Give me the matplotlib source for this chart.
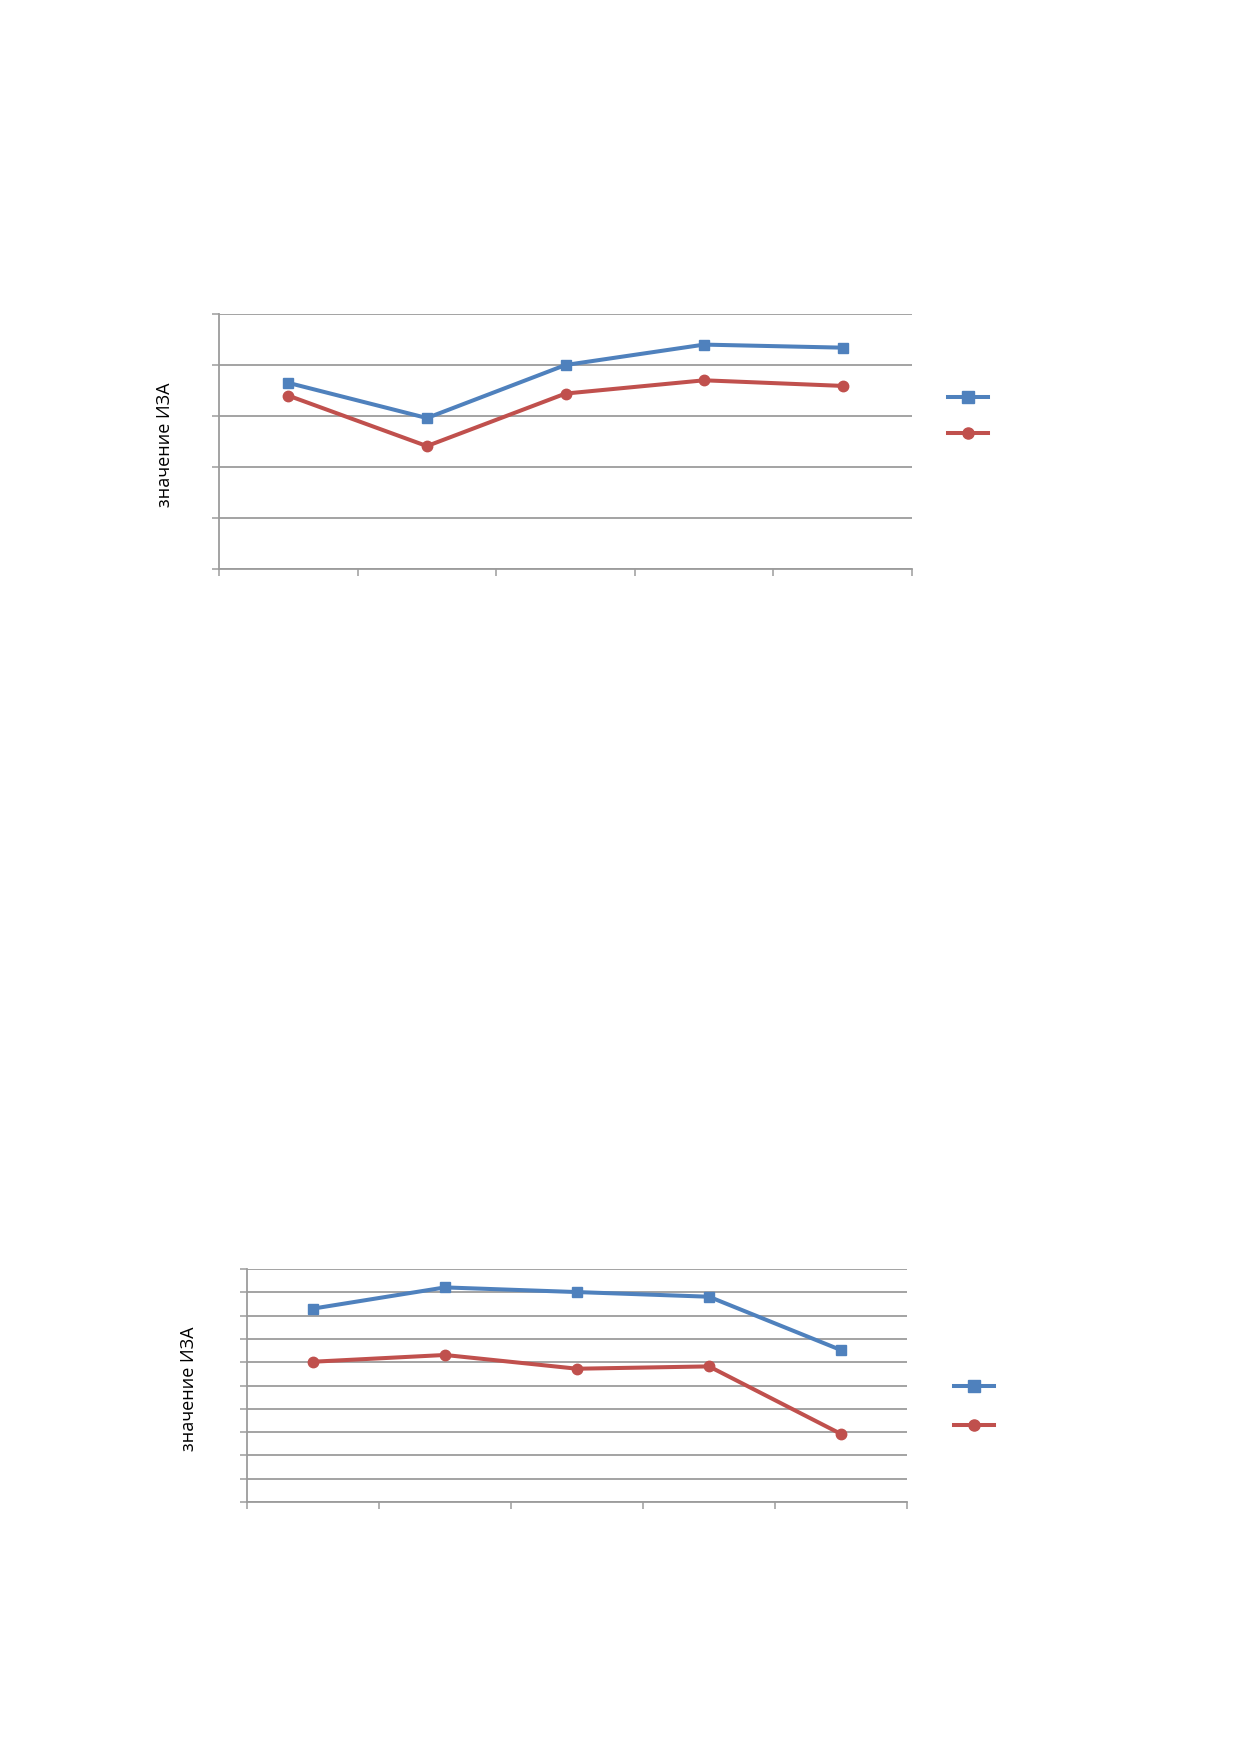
import numpy as np
import matplotlib
matplotlib.use("Agg")
import matplotlib.pyplot as plt
from matplotlib.lines import Line2D

plt.rcParams['font.family'] = ['Open Sans', 'DejaVu Sans']

# values (no visible tick labels, units = gridline steps)
n_cat = 5
top_blue = [3.65, 2.96, 4.00, 4.40, 4.34]
top_red = [3.40, 2.41, 3.44, 3.70, 3.59]
bot_blue = [8.30, 9.21, 9.01, 8.81, 6.52]
bot_red = [6.02, 6.31, 5.72, 5.82, 2.92]
ylabel = "значение ИЗА"

BLUE = "#4F81BD"
RED = "#C0504D"
GRID = "#9c9c9c"

W, H = 1239, 1752
fig = plt.figure(figsize=(W / 100, H / 100), dpi=100)


def px_axes(left, right, top, bottom):
    return fig.add_axes([left / W, 1 - bottom / H, (right - left) / W, (bottom - top) / H])


def draw_chart(ax, blue, red, ymax):
    x = np.arange(n_cat) + 0.5
    ax.plot(x, blue, color=BLUE, lw=2.9, marker='s', ms=7.5, zorder=3)
    ax.plot(x, red, color=RED, lw=2.9, marker='o', ms=7.5, zorder=3)
    ax.set_xlim(0, n_cat)
    ax.set_ylim(0, ymax)
    ax.set_xticks(np.arange(n_cat + 1))
    ax.set_yticks(np.arange(ymax + 1))
    ax.set_xticklabels([])
    ax.set_yticklabels([])
    ax.grid(axis='y', color=GRID, lw=1.3)
    ax.set_axisbelow(True)
    for s in ['top', 'right']:
        ax.spines[s].set_visible(False)
    for s in ['left', 'bottom']:
        ax.spines[s].set_color(GRID)
        ax.spines[s].set_linewidth(1.3)
    ax.tick_params(length=5, width=1.1, color=GRID, direction='out')


def draw_legend(cx, cy, gap):
    handles = [Line2D([], [], color=BLUE, lw=2.9, marker='s', ms=8),
               Line2D([], [], color=RED, lw=2.9, marker='o', ms=8)]
    fig.legend(handles, ['', ''], loc='center', bbox_to_anchor=(cx / W, 1 - cy / H),
               frameon=False, handlelength=2.4, handletextpad=0, fontsize=12,
               labelspacing=gap, borderpad=0)


ax1 = px_axes(219, 912, 314, 569)
draw_chart(ax1, top_blue, top_red, 5)
fig.text(165 / W, 1 - 445 / H, ylabel, rotation=90, ha='center', va='center', fontsize=13)
draw_legend(968, 417, 1.2)

ax2 = px_axes(247, 907, 1269, 1502)
draw_chart(ax2, bot_blue, bot_red, 10)
fig.text(189 / W, 1 - 1389 / H, ylabel, rotation=90, ha='center', va='center', fontsize=13)
draw_legend(974, 1407, 1.4)

fig.savefig("out.png", dpi=100, facecolor='white')
